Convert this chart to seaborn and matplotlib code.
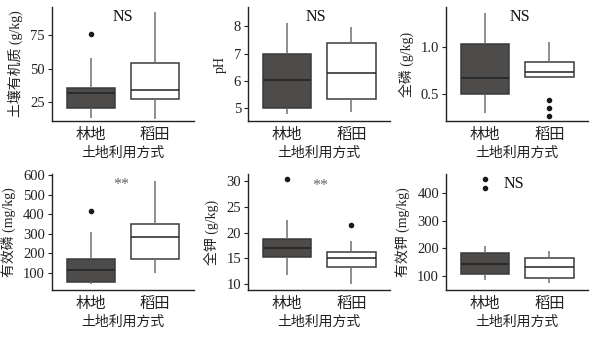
import numpy as np
import pandas as pd
import matplotlib
matplotlib.use("Agg")
import matplotlib.pyplot as plt
import seaborn as sns

sns.set_style("ticks")
plt.rcParams['font.family'] = ['Liberation Serif', 'Noto Sans CJK SC']

categories = ["林地", "稻田"]

som_forest = [13, 16, 19, 20.5, 25, 29, 32, 33, 34.5, 35.7, 42, 57.7, 76]
som_paddy = [12, 18, 24, 27, 30, 32, 34, 38, 47, 54.5, 66, 80, 92]

ph_forest = [4.8, 4.9, 5.0, 5.03, 5.4, 5.8, 6.02, 6.3, 6.7, 6.97, 7.4, 7.8, 8.13]
ph_paddy = [4.88, 5.1, 5.3, 5.36, 5.7, 6.0, 6.28, 6.6, 7.1, 7.4, 7.6, 7.8, 7.98]

tp_forest = [0.30, 0.38, 0.45, 0.50, 0.58, 0.63, 0.676, 0.78, 0.92, 1.03, 1.12, 1.25, 1.36]
tp_paddy = [0.27, 0.36, 0.444, 0.687, 0.70, 0.72, 0.74, 0.76, 0.80, 0.84, 0.90, 0.97, 1.05]

ap_forest = [45, 48, 50, 52, 75, 95, 112, 130, 150, 172, 220, 310, 415]
ap_paddy = [97, 130, 160, 172, 220, 260, 285, 310, 330, 348, 420, 500, 570]

tk_forest = [11.8, 13.5, 14.8, 15.2, 16.0, 16.6, 17.0, 17.5, 18.2, 18.7, 20.0, 22.5, 30.3]
tk_paddy = [10.0, 11.5, 12.8, 13.4, 14.2, 14.8, 15.1, 15.5, 16.0, 16.3, 17.2, 18.4, 21.4]

ak_forest = [84, 95, 102, 107, 120, 132, 143, 155, 170, 181, 209, 419, 453]
ak_paddy = [73, 80, 88, 91, 105, 120, 132, 145, 155, 164, 175, 185, 191]

ylabels = ["土壤有机质 (g/kg)", "pH", "全磷 (g/kg)",
           "有效磷 (mg/kg)", "全钾 (g/kg)", "有效钾 (mg/kg)"]
signif = ["NS", "NS", "NS", "**", "**", "NS"]
yticks = [[25, 50, 75], [5, 6, 7, 8], [0.5, 1.0],
          [100, 200, 300, 400, 500, 600], [10, 15, 20, 25, 30], [100, 200, 300, 400]]
ylims = [(10.8, 96), (4.54, 8.7), (0.218, 1.42), (11, 605), (8.83, 31.3), (47, 470)]
ann_pos = [(0.50, 0.915), (0.475, 0.915), (0.52, 0.915),
           (0.49, 0.905), (0.507, 0.9), (0.476, 0.92)]

datasets = [(som_forest, som_paddy), (ph_forest, ph_paddy), (tp_forest, tp_paddy),
            (ap_forest, ap_paddy), (tk_forest, tk_paddy), (ak_forest, ak_paddy)]

fig = plt.figure(figsize=(5.98, 3.37), dpi=100)
lefts = [0.0865, 0.4147, 0.7458]
width = 0.2375
rows = [(0.641, 0.338), (0.139, 0.344)]

palette = {"林地": "#4e4a4a", "稻田": "#ffffff"}

for i, (fv, pv) in enumerate(datasets):
    r, c = divmod(i, 3)
    ax = fig.add_axes([lefts[c], rows[r][0], width, rows[r][1]])
    df = pd.DataFrame({"use": [categories[0]] * len(fv) + [categories[1]] * len(pv),
                       "val": list(fv) + list(pv)})
    sns.boxplot(data=df, x="use", y="val", hue="use", palette=palette, legend=False,
                order=categories, hue_order=categories, width=0.75, ax=ax,
                linecolor="#3a3a3a", linewidth=1.1, showcaps=False,
                whiskerprops=dict(color="#707070", linewidth=1.1),
                medianprops=dict(color="#222222", linewidth=1.1),
                flierprops=dict(marker="o", markerfacecolor="#1a1a1a",
                                markeredgecolor="#1a1a1a", markersize=3))
    ax.set_xlim(-0.61, 1.6)
    ax.set_ylim(*ylims[i])
    ax.set_yticks(yticks[i])
    if i == 2:
        ax.set_yticklabels(["0.5", "1.0"])
    for s in ["top", "right"]:
        ax.spines[s].set_visible(False)
    for s in ["left", "bottom"]:
        ax.spines[s].set_color("#222222")
        ax.spines[s].set_linewidth(1.0)
    ax.tick_params(axis="y", length=3, width=0.8, labelsize=10.5, pad=2, colors="#222222")
    ax.tick_params(axis="x", length=0, labelsize=11, pad=5, colors="#222222")
    ax.set_xlabel("土地利用方式", fontsize=10, labelpad=3, color="#222222")
    ax.set_ylabel(ylabels[i], fontsize=10, labelpad=5, color="#222222")
    col = "#666666" if signif[i] == "**" else "#111111"
    ax.text(ann_pos[i][0], ann_pos[i][1], signif[i], transform=ax.transAxes,
            ha="center", va="center", fontsize=11.5, color=col)

fig.savefig("out.png", dpi=100)
